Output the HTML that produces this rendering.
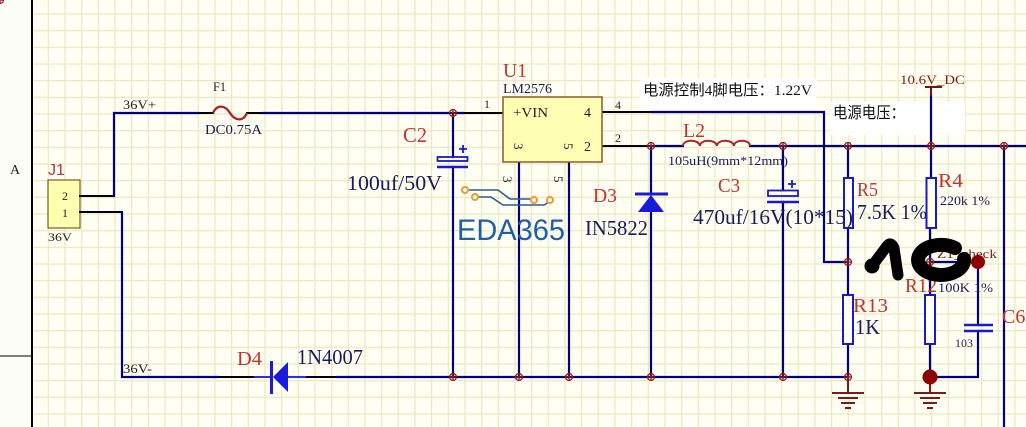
<!DOCTYPE html>
<html><head><meta charset="utf-8"><style>
html,body{margin:0;padding:0;background:#fffff3;}
svg{display:block}
text{font-family:"Liberation Serif","Noto Serif CJK SC",serif;}
</style></head><body>
<svg width="1026" height="427" viewBox="0 0 1026 427" xmlns="http://www.w3.org/2000/svg">
<defs>
<pattern id="g" patternUnits="userSpaceOnUse" x="47.7" y="13.4" width="16.667" height="16.667">
<path d="M0 0.6H16.667M0.6 0V16.667" stroke="#e9e8c0" stroke-width="1.2" fill="none"/>
</pattern>
</defs>
<rect width="1026" height="427" fill="#fffff3"/>
<rect x="33" width="993" height="427" fill="url(#g)"/>
<rect width="32" height="427" fill="#fdfdf8"/>
<line x1="32" y1="0" x2="32" y2="427" stroke="#000" stroke-width="2"/>
<line x1="0" y1="356" x2="32" y2="356" stroke="#000" stroke-width="1"/>
<text x="10" y="174" font-size="14" fill="#222">A</text>

<!-- white label boxes -->
<rect x="640" y="78" width="177" height="33" fill="#fff"/>
<rect x="830" y="102" width="135" height="33" fill="#fff"/>

<!-- J1 -->
<rect x="48" y="180" width="32" height="48" fill="#ffffb0" stroke="#7a5a20" stroke-width="1.2"/>
<text x="48" y="175" font-size="16" fill="#c0304a" style="font-family:'Liberation Sans',sans-serif" textLength="17" lengthAdjust="spacingAndGlyphs">J1</text>
<text x="62" y="200" font-size="12" fill="#222">2</text>
<text x="62" y="217" font-size="12" fill="#222">1</text>
<text x="48" y="241" font-size="12" fill="#222" textLength="24" lengthAdjust="spacingAndGlyphs">36V</text>

<g fill="none" stroke-linecap="square">
<g stroke="#000" stroke-width="2">
<path d="M80 196H114M80 212H122"/>
<path d="M198 113H213M247 113H263"/>
<path d="M463 113H503"/>
<path d="M602 112H652M602 146H651"/>
<path d="M218 377H255M305 377H337"/>
</g>
<g stroke="#000080" stroke-width="2.2">
<path d="M114 196V113H198"/>
<path d="M263 113H463"/>
<path d="M122 212V377H218"/>
<path d="M337 377H848"/>
<path d="M453 113V157M453 167V377"/>
<path d="M519 162V377M569 162V377"/>
<path d="M652 112H824V262H848"/>
<path d="M651 146H683M750 146H1026"/>
<path d="M651 146V193M651 212V377"/>
<path d="M783 146V190M783 202V377"/>
<path d="M848 146V178M848 228V295M848 344V377"/>
<path d="M931 95V178M930 228V295M930 344V377"/>
<path d="M930 262H978V325M978 331V377H930"/>
<path d="M1004 146V427"/>
</g>
<path d="M255 377H270M288 377H305" stroke="#2a2aff" stroke-width="2"/>
</g>

<!-- Fuse -->
<path d="M213 113C217 104 225 105 230 113S243 122 247 113" fill="none" stroke="#b02020" stroke-width="2.2"/>
<text x="213" y="91" font-size="13" fill="#222" textLength="13" lengthAdjust="spacingAndGlyphs">F1</text>
<text x="205" y="134" font-size="14" fill="#1a1a50" textLength="57" lengthAdjust="spacingAndGlyphs">DC0.75A</text>
<text x="123" y="109" font-size="13" fill="#222" textLength="33" lengthAdjust="spacingAndGlyphs">36V+</text>
<text x="123" y="373" font-size="13" fill="#222" textLength="29" lengthAdjust="spacingAndGlyphs">36V-</text>

<!-- U1 -->
<rect x="503" y="97" width="99" height="65" fill="#ffffb4" stroke="#8b5a2b" stroke-width="1.5"/>
<text x="503" y="77" font-size="20" fill="#c8302f" textLength="24" lengthAdjust="spacingAndGlyphs">U1</text>
<text x="503" y="93" font-size="14" fill="#1a1a5e" textLength="49" lengthAdjust="spacingAndGlyphs">LM2576</text>
<text x="484" y="108" font-size="12" fill="#222">1</text>
<text x="513" y="117" font-size="14" fill="#222" textLength="35" lengthAdjust="spacingAndGlyphs">+VIN</text>
<text x="584" y="117" font-size="14" fill="#222">4</text>
<text x="584" y="151" font-size="14" fill="#222">2</text>
<text x="615" y="109" font-size="12" fill="#222">4</text>
<text x="615" y="142" font-size="12" fill="#222">2</text>
<text transform="translate(514,143) rotate(90)" font-size="13" fill="#222">3</text>
<text transform="translate(564,143) rotate(90)" font-size="13" fill="#222">5</text>
<text transform="translate(503,176) rotate(90)" font-size="13" fill="#222">3</text>
<text transform="translate(554,176) rotate(90)" font-size="13" fill="#222">5</text>

<!-- C2 -->
<rect x="437.5" y="157" width="30" height="4" fill="none" stroke="#1a1acc" stroke-width="1.8"/>
<line x1="437" y1="167" x2="468" y2="167" stroke="#1a1acc" stroke-width="2.6"/>
<path d="M459 149H467M463 145V153" stroke="#1a1acc" stroke-width="1.8"/>
<text x="403" y="142" font-size="21" fill="#c8302f" textLength="24" lengthAdjust="spacingAndGlyphs">C2</text>
<text x="347" y="190" font-size="21" fill="#1a1a5e" textLength="95" lengthAdjust="spacingAndGlyphs">100uf/50V</text>

<!-- EDA365 logo -->
<g fill="none" stroke="#2a5a9a" stroke-width="1.6">
<path d="M468 190H498L510 199H531"/>
<path d="M478 197H491L503 205H544L549 202"/>
</g>
<g fill="#fff" stroke="#e8a040" stroke-width="2.2">
<circle cx="465" cy="190" r="3"/><circle cx="475" cy="197" r="3"/>
<circle cx="534" cy="200" r="3"/><circle cx="550" cy="200" r="3"/>
</g>
<text x="457" y="240" font-size="30" fill="#1e5fa8" style="font-family:'Liberation Sans',sans-serif" textLength="108" lengthAdjust="spacingAndGlyphs">EDA365</text>

<!-- D3 -->
<path d="M638 212H664L651 195Z" fill="#1a1adc"/>
<line x1="635" y1="194" x2="668" y2="194" stroke="#1a1adc" stroke-width="3"/>
<text x="593" y="202" font-size="20" fill="#c8302f" textLength="24" lengthAdjust="spacingAndGlyphs">D3</text>
<text x="585" y="235" font-size="21" fill="#1a1a5e" textLength="63" lengthAdjust="spacingAndGlyphs">IN5822</text>

<!-- L2 -->
<path d="M683 146C683 139 699 139 700 146C700 139 716 139 717 146C717 139 733 139 734 146C734 139 750 139 750 146" fill="none" stroke="#a82828" stroke-width="2"/>
<text x="683" y="137" font-size="20" fill="#c8302f" textLength="22" lengthAdjust="spacingAndGlyphs">L2</text>
<text x="668" y="165" font-size="13" fill="#1a1a5e" textLength="120" lengthAdjust="spacingAndGlyphs">105uH(9mm*12mm)</text>

<!-- C3 -->
<rect x="768" y="190.5" width="30" height="5.5" fill="none" stroke="#1a1acc" stroke-width="1.8"/>
<line x1="767" y1="202" x2="799" y2="202" stroke="#1a1acc" stroke-width="2.6"/>
<path d="M788 184H796M792 180V188" stroke="#1a1acc" stroke-width="1.8"/>
<text x="718" y="192" font-size="20" fill="#c8302f" textLength="22" lengthAdjust="spacingAndGlyphs">C3</text>

<!-- Chinese labels -->
<text x="643" y="95" font-size="15" fill="#111" style="font-family:'Liberation Serif','Noto Sans CJK SC',sans-serif" textLength="169" lengthAdjust="spacingAndGlyphs">电源控制4脚电压：1.22V</text>
<text x="833" y="118" font-size="16" fill="#111" style="font-family:'Liberation Serif','Noto Sans CJK SC',sans-serif" textLength="72" lengthAdjust="spacingAndGlyphs">电源电压：</text>

<!-- power 10.6V_DC -->
<path d="M925 87H942M931 87V96" stroke="#7a1010" stroke-width="2" fill="none"/>
<text x="900" y="84" font-size="13" fill="#7a1a1a" textLength="65" lengthAdjust="spacingAndGlyphs">10.6V_DC</text>

<!-- resistors -->
<g fill="#fffff3" stroke="#1a1acc" stroke-width="2">
<rect x="844" y="178" width="9" height="50"/>
<rect x="926.5" y="178" width="9.5" height="50"/>
<rect x="843" y="295" width="10" height="49"/>
<rect x="925" y="295" width="10" height="49"/>
</g>
<text x="693" y="224" font-size="21" fill="#1a1a5e" textLength="160" lengthAdjust="spacingAndGlyphs">470uf/16V(10*15)</text>
<text x="857" y="196" font-size="20" fill="#c8302f" textLength="21" lengthAdjust="spacingAndGlyphs">R5</text>
<text x="857" y="219" font-size="21" fill="#1a1a5e" textLength="70" lengthAdjust="spacingAndGlyphs">7.5K 1%</text>
<text x="938" y="187" font-size="20" fill="#c8302f" textLength="25" lengthAdjust="spacingAndGlyphs">R4</text>
<text x="940" y="205" font-size="13" fill="#1a1a5e" textLength="50" lengthAdjust="spacingAndGlyphs">220k 1%</text>
<text x="853" y="312" font-size="20" fill="#c8302f" textLength="35" lengthAdjust="spacingAndGlyphs">R13</text>
<text x="855" y="334" font-size="21" fill="#1a1a5e" textLength="25" lengthAdjust="spacingAndGlyphs">1K</text>
<text x="905" y="292" font-size="20" fill="#c8302f" textLength="32" lengthAdjust="spacingAndGlyphs">R12</text>
<text x="938" y="292" font-size="13" fill="#1a1a5e" textLength="55" lengthAdjust="spacingAndGlyphs">100K 1%</text>
<text x="937" y="258" font-size="13" fill="#7a1a1a" textLength="60" lengthAdjust="spacingAndGlyphs">Z1_check</text>

<!-- C6 -->
<line x1="964" y1="325" x2="993" y2="325" stroke="#1a1acc" stroke-width="2.4"/>
<line x1="964" y1="331" x2="993" y2="331" stroke="#1a1acc" stroke-width="2.4"/>
<text x="955" y="347" font-size="12" fill="#1a1a5e" textLength="18" lengthAdjust="spacingAndGlyphs">103</text>
<text x="1002" y="323" font-size="20" fill="#c8302f">C6</text>

<!-- D4 -->
<path d="M288 362V392L273 377Z" fill="#1a1adc"/>
<line x1="271.5" y1="361" x2="271.5" y2="394" stroke="#1a1adc" stroke-width="3"/>
<text x="237" y="365" font-size="20" fill="#c8302f" textLength="25" lengthAdjust="spacingAndGlyphs">D4</text>
<text x="297" y="364" font-size="21" fill="#1a1a5e" textLength="66" lengthAdjust="spacingAndGlyphs">1N4007</text>

<!-- grounds -->
<g stroke="#7a1a1a" stroke-width="2" fill="none">
<path d="M848 377V393M832 393H864M838 398H858M841 403H855M845 408H851"/>
<path d="M930 377V393M914 393H946M920 398H940M923 403H937M927 408H933"/>
</g>

<!-- junctions -->
<g fill="none" stroke="#8b1a1a" stroke-width="1.2">
<g id="j"><circle cx="0" cy="0" r="3.5"/><path d="M-4 0H4M0 -4V4"/></g>
</g>
<g fill="none" stroke="#8b1a1a" stroke-width="1.2">
<use href="#j" x="453" y="113"/>
<use href="#j" x="651" y="146"/>
<use href="#j" x="783" y="146"/>
<use href="#j" x="848" y="146"/>
<use href="#j" x="931" y="146"/>
<use href="#j" x="1004" y="146"/>
<use href="#j" x="848" y="262"/>
<use href="#j" x="930" y="262"/>
<use href="#j" x="453" y="377"/>
<use href="#j" x="519" y="377"/>
<use href="#j" x="569" y="377"/>
<use href="#j" x="651" y="377"/>
<use href="#j" x="783" y="377"/>
<use href="#j" x="848" y="377"/>
</g>
<circle cx="930" cy="377" r="7.5" fill="#8b0000"/>
<circle cx="978" cy="262" r="7" fill="#8b0000"/>

<!-- handwritten scribble -->
<g fill="none" stroke="#000" stroke-linecap="round" stroke-linejoin="round">
<path d="M872 266L887 246Q891 241 894 248L898 275" stroke-width="11"/>
<circle cx="872" cy="266" r="5.5" fill="#000" stroke-width="4"/>
<path d="M955 248A23 15 0 1 0 964 259" stroke-width="14"/>
</g>
</svg>
</body></html>
